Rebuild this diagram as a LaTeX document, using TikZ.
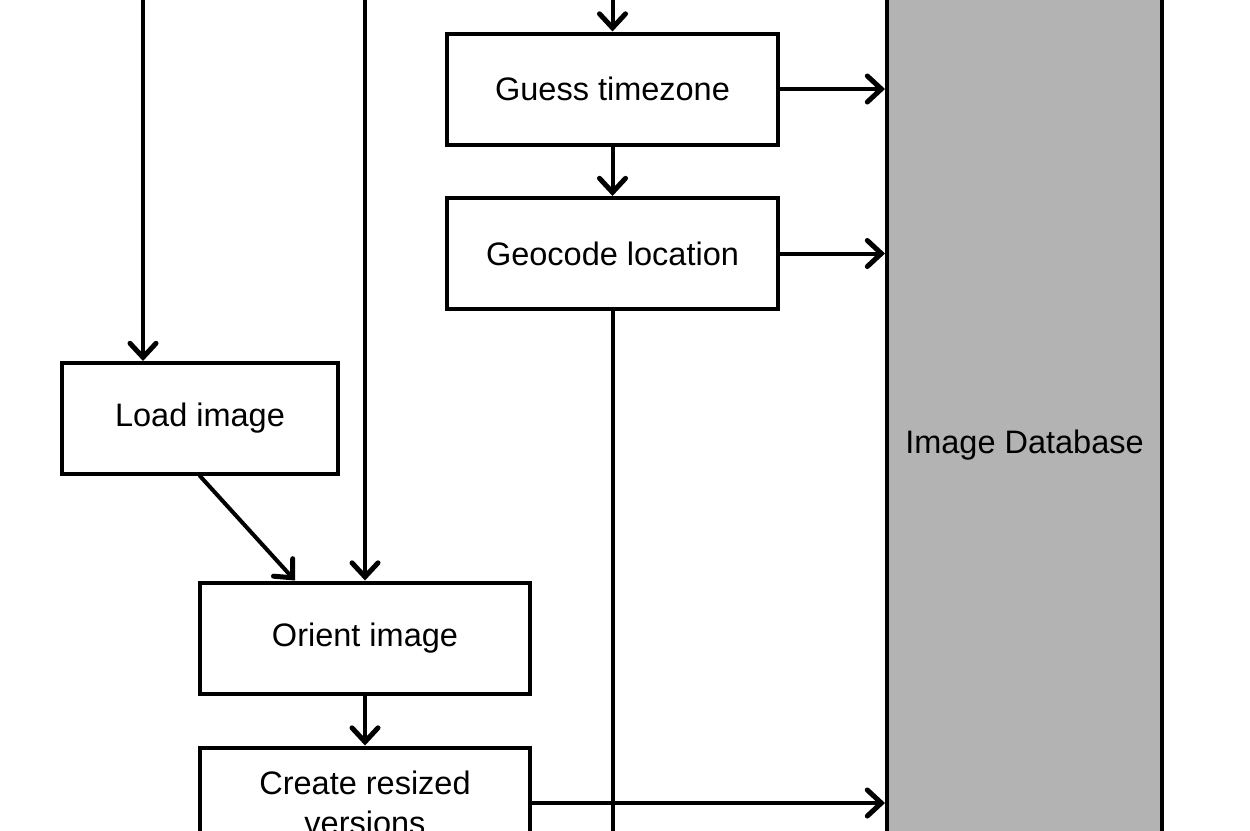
\documentclass[tikz,border=0pt]{standalone}
\usepackage{fontspec}
\setmainfont{Liberation Sans}
\usepackage{xcolor}
\usepackage{tikz}
\usetikzlibrary{arrows.meta}

\definecolor{dbgray}{RGB}{179,179,179}

\begin{document}
\begin{tikzpicture}[
  x=1pt, y=-1pt,
  every node/.style={
    font=\fontsize{32.5}{40}\selectfont,
    align=center, inner sep=0pt
  },
  proc/.style={
    rectangle, draw, line width=4pt, fill=white,
    minimum height=111pt
  },
  store/.style={
    rectangle, draw, line width=4pt, fill=dbgray,
    minimum width=275pt, minimum height=1100pt
  },
  flow/.style={
    line width=4pt, line cap=round,
    -{Straight Barb[length=14pt,width=26pt,line width=5pt,line cap=round]}
  }
]
\clip (0,0) rectangle (1250,830);

% archivio a destra
\node[store] (db) at (1024.5,445) {Image Database};

\node[proc, minimum width=331pt] (guess) at (612.5,89) {Guess timezone};
\node[proc, minimum width=331pt] (geo) at (612.5,253.5) {Geocode location};
\node[proc, minimum width=276pt] (load) at (200,418.5) {Load image};
\node[proc, minimum width=330pt] (orient) at (365,638) {Orient image};
\node[proc, minimum width=330pt] (resize) at (365,803) {Create resized\\versions};

% ingressi dall'alto
\coordinate (inLoad) at (143,-10);
\coordinate (inOrient) at (365,-10);
\coordinate (inGuess) at (612.5,-10);
\coordinate (outGeo) at (612.5,850);

\draw[flow] (inLoad) -- (inLoad |- load.north);
\draw[flow] (inOrient) -- (orient.north);
\draw[flow] (inGuess) -- (guess.north);
\draw[flow] (guess) -- (geo);
\draw[flow] (load.south) -- ([xshift=-70pt]orient.north);
\draw[flow] (orient) -- (resize);
\draw[line width=4pt] (geo.south) -- (outGeo);

\draw[flow] (guess.east) -- (guess.east -| db.west);
\draw[flow] (geo.east) -- (geo.east -| db.west);
\draw[flow] (resize.east) -- (resize.east -| db.west);
\end{tikzpicture}
\end{document}
